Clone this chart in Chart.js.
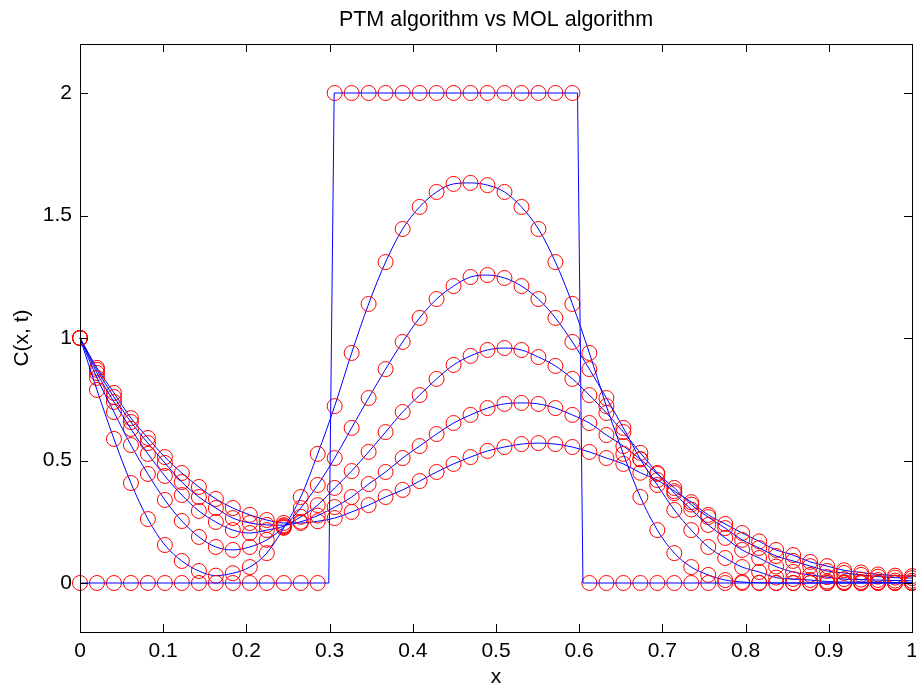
<!DOCTYPE html>
<html lang="en">
<head>
<meta charset="UTF-8">
<title>PTM vs MOL</title>
<script src="https://cdn.jsdelivr.net/npm/chart.js"></script>
<style>
  html, body { margin: 0; padding: 0; background: #fff; }
  #wrap { width: 916px; height: 690px; }
</style>
</head>
<body>
<div id="wrap"><canvas id="chart" width="916" height="690"></canvas></div>
<script>
// grid points (x = i/49)
const xs = [0, 0.0204, 0.0408, 0.0612, 0.0816, 0.1020, 0.1224, 0.1429, 0.1633, 0.1837,
  0.2041, 0.2245, 0.2449, 0.2653, 0.2857, 0.3061, 0.3265, 0.3469, 0.3673, 0.3878,
  0.4082, 0.4286, 0.4490, 0.4694, 0.4898, 0.5102, 0.5306, 0.5510, 0.5714, 0.5918,
  0.6122, 0.6327, 0.6531, 0.6735, 0.6939, 0.7143, 0.7347, 0.7551, 0.7755, 0.7959,
  0.8163, 0.8367, 0.8571, 0.8776, 0.8980, 0.9184, 0.9388, 0.9592, 0.9796, 1.0];

// initial profile (circles)
const c0 = [0, 0, 0, 0, 0, 0, 0, 0, 0, 0, 0, 0, 0, 0, 0,
  2, 2, 2, 2, 2, 2, 2, 2, 2, 2, 2, 2, 2, 2, 2,
  0, 0, 0, 0, 0, 0, 0, 0, 0, 0, 0, 0, 0, 0, 0, 0, 0, 0, 0, 0];
// initial profile (solid line, finer grid)
const stepX = [0, 0.299, 0.3055, 0.598, 0.6045, 1];
const stepY = [0, 0, 2, 2, 0, 0];

const c1 = [1, 0.788, 0.588, 0.408, 0.261, 0.155, 0.090, 0.049, 0.030, 0.040,
  0.065, 0.122, 0.225, 0.351, 0.527, 0.722, 0.939, 1.139, 1.310, 1.445,
  1.535, 1.596, 1.629, 1.633, 1.624, 1.596, 1.535, 1.445, 1.310, 1.139,
  0.939, 0.722, 0.527, 0.351, 0.216, 0.122, 0.065, 0.033, 0.012, 0.004,
  0.001, 0, 0, 0, 0, 0, 0, 0, 0, 0];
const c2 = [1, 0.837, 0.698, 0.563, 0.445, 0.339, 0.253, 0.188, 0.147, 0.135,
  0.147, 0.176, 0.228, 0.306, 0.400, 0.510, 0.633, 0.755, 0.873, 0.984,
  1.082, 1.159, 1.212, 1.249, 1.257, 1.245, 1.212, 1.159, 1.082, 0.984,
  0.873, 0.755, 0.633, 0.505, 0.400, 0.298, 0.216, 0.147, 0.102, 0.065,
  0.045, 0.022, 0.016, 0.012, 0.006, 0.004, 0.004, 0.003, 0.002, 0.002];
const c3 = [1, 0.857, 0.739, 0.629, 0.527, 0.437, 0.359, 0.294, 0.249, 0.216,
  0.204, 0.216, 0.232, 0.270, 0.318, 0.388, 0.457, 0.535, 0.616, 0.698,
  0.767, 0.833, 0.890, 0.927, 0.951, 0.959, 0.951, 0.922, 0.886, 0.833,
  0.767, 0.694, 0.616, 0.531, 0.449, 0.367, 0.300, 0.237, 0.184, 0.135,
  0.102, 0.067, 0.045, 0.033, 0.024, 0.016, 0.014, 0.012, 0.010, 0.009];
const c4 = [1, 0.870, 0.759, 0.657, 0.571, 0.490, 0.412, 0.351, 0.306, 0.265,
  0.245, 0.237, 0.236, 0.250, 0.275, 0.310, 0.351, 0.404, 0.453, 0.510,
  0.559, 0.608, 0.653, 0.686, 0.714, 0.731, 0.735, 0.731, 0.714, 0.686,
  0.653, 0.604, 0.559, 0.505, 0.445, 0.388, 0.320, 0.269, 0.224, 0.176,
  0.143, 0.110, 0.090, 0.069, 0.049, 0.041, 0.033, 0.026, 0.022, 0.020];
const c5 = [1, 0.878, 0.776, 0.673, 0.592, 0.514, 0.449, 0.392, 0.343, 0.306,
  0.278, 0.257, 0.245, 0.245, 0.252, 0.265, 0.290, 0.318, 0.351, 0.380,
  0.416, 0.453, 0.486, 0.514, 0.539, 0.555, 0.567, 0.571, 0.567, 0.555,
  0.535, 0.510, 0.486, 0.450, 0.420, 0.375, 0.330, 0.278, 0.241, 0.204,
  0.170, 0.135, 0.114, 0.086, 0.069, 0.052, 0.043, 0.035, 0.030, 0.028];

const xTicks = [0, 0.1, 0.2, 0.3, 0.4, 0.5, 0.6, 0.7, 0.8, 0.9, 1];
const yTicks = [0, 0.5, 1, 1.5, 2];

const FONT = '"Liberation Sans", Arial, Helvetica, sans-serif';
const FS = 21;

function pts(y) {
  return y.map((v, i) => ({ x: xs[i], y: v }));
}

const curves = [c1, c2, c3, c4, c5].map(y => ({
  data: pts(y),
  borderColor: '#0000ff',
  borderWidth: 1,
  cubicInterpolationMode: 'monotone',
  pointRadius: 7.5,
  pointBorderColor: '#ff0000',
  pointBackgroundColor: 'rgba(0,0,0,0)',
  pointBorderWidth: 1,
  clip: false
}));

const datasets = [
  {
    data: stepX.map((x, i) => ({ x: x, y: stepY[i] })),
    borderColor: '#0000ff',
    borderWidth: 1,
    pointRadius: 0,
    clip: false
  },
  {
    data: pts(c0),
    showLine: false,
    pointRadius: 7.5,
    pointBorderColor: '#ff0000',
    pointBackgroundColor: 'rgba(0,0,0,0)',
    pointBorderWidth: 1,
    clip: false
  }
].concat(curves);

// box + inward ticks on all four sides, like the original figure
const boxTicks = {
  id: 'boxTicks',
  afterDraw(chart) {
    const { ctx, chartArea: a, scales } = chart;
    const len = 8;
    ctx.save();
    ctx.strokeStyle = '#000';
    ctx.lineWidth = 1;
    ctx.strokeRect(Math.round(a.left) + 0.5, Math.round(a.top) + 0.5,
      Math.round(a.right - a.left), Math.round(a.bottom - a.top));
    ctx.beginPath();
    xTicks.forEach(v => {
      const px = Math.round(scales.x.getPixelForValue(v)) + 0.5;
      ctx.moveTo(px, a.bottom); ctx.lineTo(px, a.bottom - len);
      ctx.moveTo(px, a.top); ctx.lineTo(px, a.top + len);
    });
    yTicks.forEach(v => {
      const py = Math.round(scales.y.getPixelForValue(v)) + 0.5;
      ctx.moveTo(a.left, py); ctx.lineTo(a.left + len, py);
      ctx.moveTo(a.right, py); ctx.lineTo(a.right - len, py);
    });
    ctx.stroke();
    ctx.restore();
  }
};

new Chart(document.getElementById('chart'), {
  type: 'line',
  data: { datasets: datasets },
  options: {
    responsive: false,
    animation: false,
    layout: { autoPadding: false, padding: { left: 0, right: 4, top: 0, bottom: 0 } },
    plugins: {
      legend: { display: false },
      tooltip: { enabled: false },
      title: {
        display: true,
        fullSize: false,
        text: 'PTM algorithm vs MOL algorithm',
        color: '#000',
        font: { family: FONT, size: 21.5, weight: 'normal', lineHeight: 1.2 },
        padding: { top: 7, bottom: 11.2 }
      }
    },
    scales: {
      x: {
        type: 'linear',
        min: 0,
        max: 1,
        afterBuildTicks: s => { s.ticks = xTicks.map(v => ({ value: v })); },
        afterFit: s => { s.height = 58; s.paddingLeft = 0; s.paddingRight = 0; },
        grid: { display: false, drawTicks: false },
        border: { display: false },
        ticks: {
          color: '#000',
          padding: 7,
          maxRotation: 0,
          autoSkip: false,
          font: { family: FONT, size: FS },
          callback: v => String(v)
        },
        title: {
          display: true,
          text: 'x',
          color: '#000',
          font: { family: FONT, size: FS, lineHeight: 1.2 },
          padding: { top: 0, bottom: 0 }
        }
      },
      y: {
        type: 'linear',
        min: -0.2,
        max: 2.2,
        afterBuildTicks: s => { s.ticks = yTicks.map(v => ({ value: v })); },
        afterFit: s => { s.width = 80; },
        grid: { display: false, drawTicks: false },
        border: { display: false },
        ticks: {
          color: '#000',
          padding: 8,
          autoSkip: false,
          font: { family: FONT, size: FS },
          callback: v => String(v)
        },
        title: {
          display: true,
          text: 'C(x, t)',
          color: '#000',
          font: { family: FONT, size: FS, lineHeight: 1.2 },
          padding: { top: 9.4, bottom: 0 }
        }
      }
    }
  },
  plugins: [boxTicks]
});
</script>
</body>
</html>
